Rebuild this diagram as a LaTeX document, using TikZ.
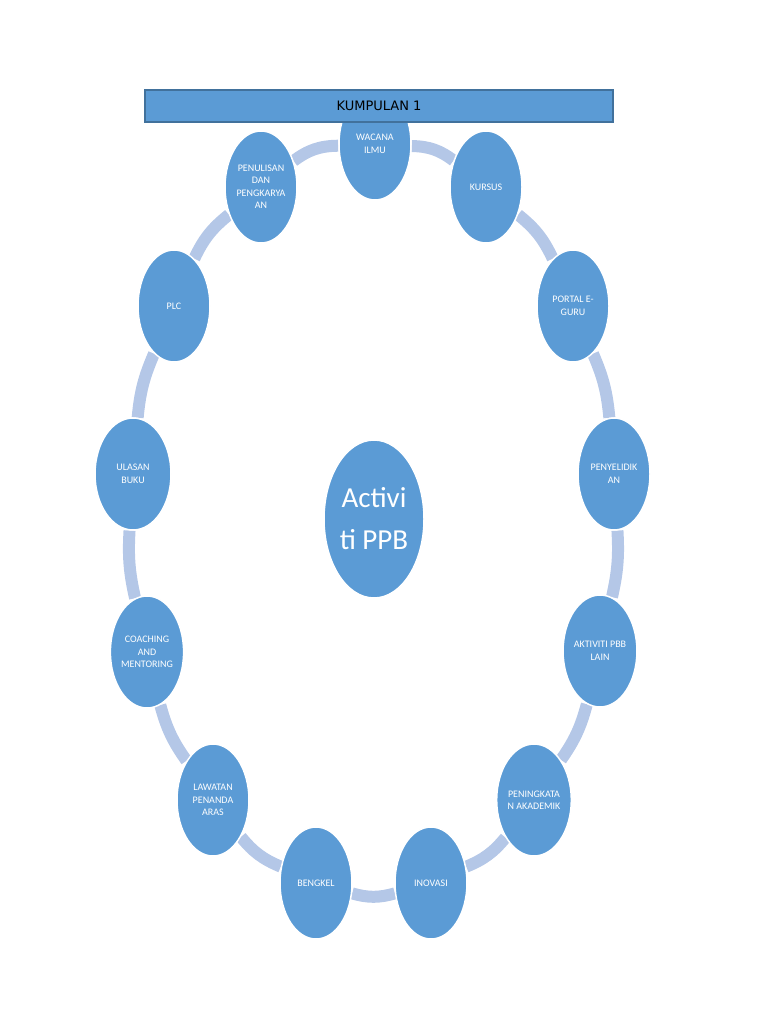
\documentclass[tikz,border=0pt]{standalone}
\usepackage{fontspec}
\setmainfont{Carlito}
\newfontfamily\bannerfont{DejaVu Sans}
\usetikzlibrary{shapes.geometric,backgrounds}
\definecolor{nodeblue}{RGB}{91,155,213}
\definecolor{bannerborder}{RGB}{65,113,156}
\definecolor{ringblue}{RGB}{180,199,231}
\tikzset{
  item/.style={ellipse, fill=nodeblue, draw=white, line width=1.5pt,
    minimum width=72pt, minimum height=112pt, inner sep=0pt,
    text=white, align=center, font=\fontsize{10}{12.5}\selectfont},
  hub/.style={ellipse, fill=nodeblue, draw=white, line width=1.5pt,
    minimum width=100pt, minimum height=158pt, inner sep=0pt,
    text=white, align=center, font=\fontsize{29}{42}\selectfont},
  ring/.style={line width=12pt, draw=ringblue},
  banner/.style={rectangle, fill=nodeblue, draw=bannerborder, line width=1.5pt,
    minimum width=468pt, minimum height=32pt, inner sep=0pt,
    font=\bannerfont\fontsize{13}{15}\selectfont, text=black}
}
\begin{document}
\begin{tikzpicture}[x=1pt,y=-1pt]
\useasboundingbox (0,0) rectangle (768,1024);
\node[hub] (hub) at (374,519) {Activi\\ti PPB};
\node[item] (n1) at (375,144) {WACANA\\ILMU};
\node[item] (n2) at (486,187) {KURSUS};
\node[item] (n3) at (573,306) {PORTAL E-\\GURU};
\node[item] (n4) at (614,474) {PENYELIDIK\\AN};
\node[item] (n5) at (600,651) {AKTIVITI PBB\\LAIN};
\node[item] (n6) at (534,800) {PENINGKATA\\N AKADEMIK};
\node[item] (n7) at (431,883) {INOVASI};
\node[item] (n8) at (316,883) {BENGKEL};
\node[item] (n9) at (213,800) {LAWATAN\\PENANDA\\ARAS};
\node[item] (n10) at (147,652) {COACHING\\AND\\MENTORING};
\node[item, minimum width=76pt] (n11) at (133,474) {ULASAN\\BUKU};
\node[item] (n12) at (174,306) {PLC};
\node[item] (n13) at (261,187) {PENULISAN\\DAN\\PENGKARYA\\AN};
\begin{pgfonlayer}{background}
\draw[ring] (n1) to[bend left=18] (n2);
\draw[ring] (n2) to[bend left=13] (n3);
\draw[ring] (n3) to[bend left=9] (n4);
\draw[ring] (n4) to[bend left=8] (n5);
\draw[ring] (n5) to[bend left=10] (n6);
\draw[ring] (n6) to[bend left=14] (n7);
\draw[ring] (n7) to[bend left=16] (n8);
\draw[ring] (n8) to[bend left=14] (n9);
\draw[ring] (n9) to[bend left=10] (n10);
\draw[ring] (n10) to[bend left=8] (n11);
\draw[ring] (n11) to[bend left=9] (n12);
\draw[ring] (n12) to[bend left=13] (n13);
\draw[ring] (n13) to[bend left=18] (n1);
\end{pgfonlayer}
\node[banner] (title) at (379,106) {KUMPULAN 1};
\end{tikzpicture}
\end{document}
